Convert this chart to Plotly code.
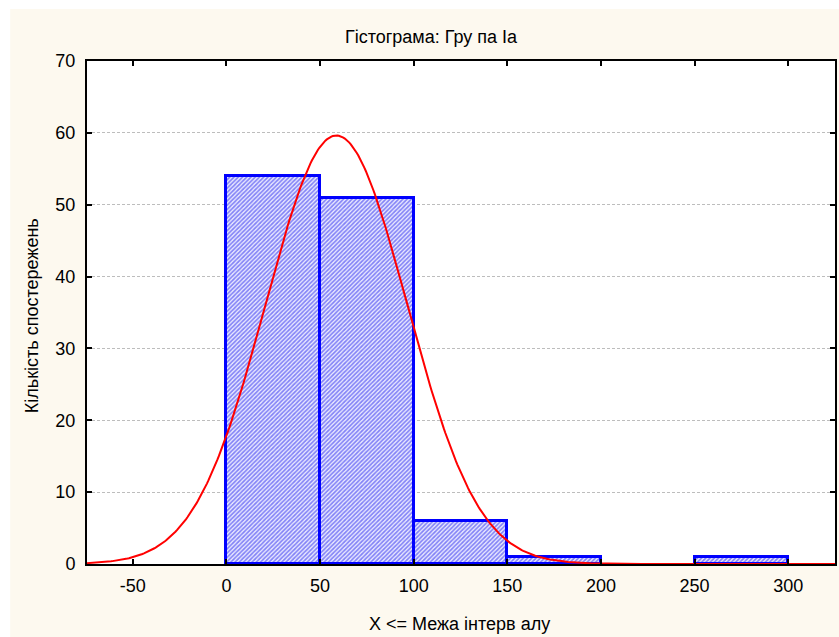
import numpy as np
import plotly.graph_objects as go

# Histogram of group Ia: bin edges and observed counts
bin_edges = [0, 50, 100, 150, 200, 250, 300]
counts = [54, 51, 6, 1, 0, 1]

# Fitted normal distribution parameters
fit_mean = 58.7
fit_sd = 37.8

x_ticks = [-50, 0, 50, 100, 150, 200, 250, 300]
y_ticks = [0, 10, 20, 30, 40, 50, 60, 70]
x_range = [-74.5, 325]
y_range = [0, 70]

title_text = "Гістограма: Гру па Іа"
x_title = "X <= Межа інтерв алу"
y_title = "Кількість спостережень"

FONT = "Liberation Sans, Arial, sans-serif"
CREAM = "#FDF9EF"

# bars (empty bins are skipped)
centers, widths, heights = [], [], []
for lo, hi, c in zip(bin_edges[:-1], bin_edges[1:], counts):
    if c > 0:
        centers.append((lo + hi) / 2)
        widths.append(hi - lo)
        heights.append(c)

# expected counts under the fitted normal curve
n_total = sum(counts)
bin_w = bin_edges[1] - bin_edges[0]
xs = np.linspace(x_range[0], x_range[1], 500)
ys = n_total * bin_w / (fit_sd * np.sqrt(2 * np.pi)) * np.exp(-0.5 * ((xs - fit_mean) / fit_sd) ** 2)

fig = go.Figure()
fig.add_trace(go.Bar(
    x=centers, y=heights, width=widths,
    marker=dict(
        color="#0000FF",
        line=dict(color="#0000FF", width=3),
        pattern=dict(shape="/", fgcolor="#1818EE", bgcolor="#ECECFF", size=3, solidity=0.55),
    ),
    hoverinfo="x+y",
))
fig.add_trace(go.Scatter(
    x=xs, y=ys, mode="lines",
    line=dict(color="#FF0000", width=2),
    hoverinfo="skip",
))

L, R, T, B = 87, 2, 61, 73
W, H = 839, 637
pw, ph = W - L - R, H - T - B

axis_common = dict(
    showline=True, linecolor="black", linewidth=2, mirror="ticks",
    ticks="inside", ticklen=5, tickwidth=2, tickcolor="black",
    tickfont=dict(family=FONT, size=18, color="black"),
    zeroline=False,
)

fig.update_layout(
    width=W, height=H,
    margin=dict(l=L, r=R, t=T, b=B),
    paper_bgcolor=CREAM,
    plot_bgcolor="white",
    showlegend=False,
    bargap=0,
    font=dict(family=FONT, color="black"),
    title=dict(text=title_text, x=431 / W, xanchor="center",
               y=1 - 37 / H, yanchor="middle", yref="container",
               font=dict(family=FONT, size=18, color="black")),
    xaxis=dict(range=x_range, tickvals=x_ticks, ticktext=[str(v) for v in x_ticks],
               showgrid=False, ticklabelstandoff=4, **axis_common),
    yaxis=dict(range=y_range, tickvals=y_ticks, ticktext=[str(v) for v in y_ticks],
               showgrid=True, gridcolor="#BDBDBD", griddash="3px,2px", gridwidth=1,
               ticklabelstandoff=6, **axis_common),
    annotations=[
        dict(text=x_title, xref="paper", yref="paper", x=(460 - L) / pw, y=-(624 - (H - B)) / ph,
             xanchor="center", yanchor="middle", showarrow=False,
             font=dict(family=FONT, size=18, color="black")),
        dict(text=y_title, xref="paper", yref="paper", x=(32 - L) / pw, y=1 - (316 - T) / ph,
             xanchor="center", yanchor="middle", textangle=-90, showarrow=False,
             font=dict(family=FONT, size=18, color="black")),
    ],
    shapes=[
        # thin white frame along the top and left edges of the page
        dict(type="rect", xref="paper", yref="paper", layer="above", line=dict(width=0),
             fillcolor="white", x0=-L / pw - 0.01, x1=1.05, y0=1 + (T - 9) / ph, y1=1 + T / ph + 0.01),
        dict(type="rect", xref="paper", yref="paper", layer="above", line=dict(width=0),
             fillcolor="white", x0=-L / pw - 0.01, x1=(10 - L) / pw, y0=-B / ph - 0.01, y1=1 + T / ph + 0.01),
    ],
)

fig.write_html("out.html")
